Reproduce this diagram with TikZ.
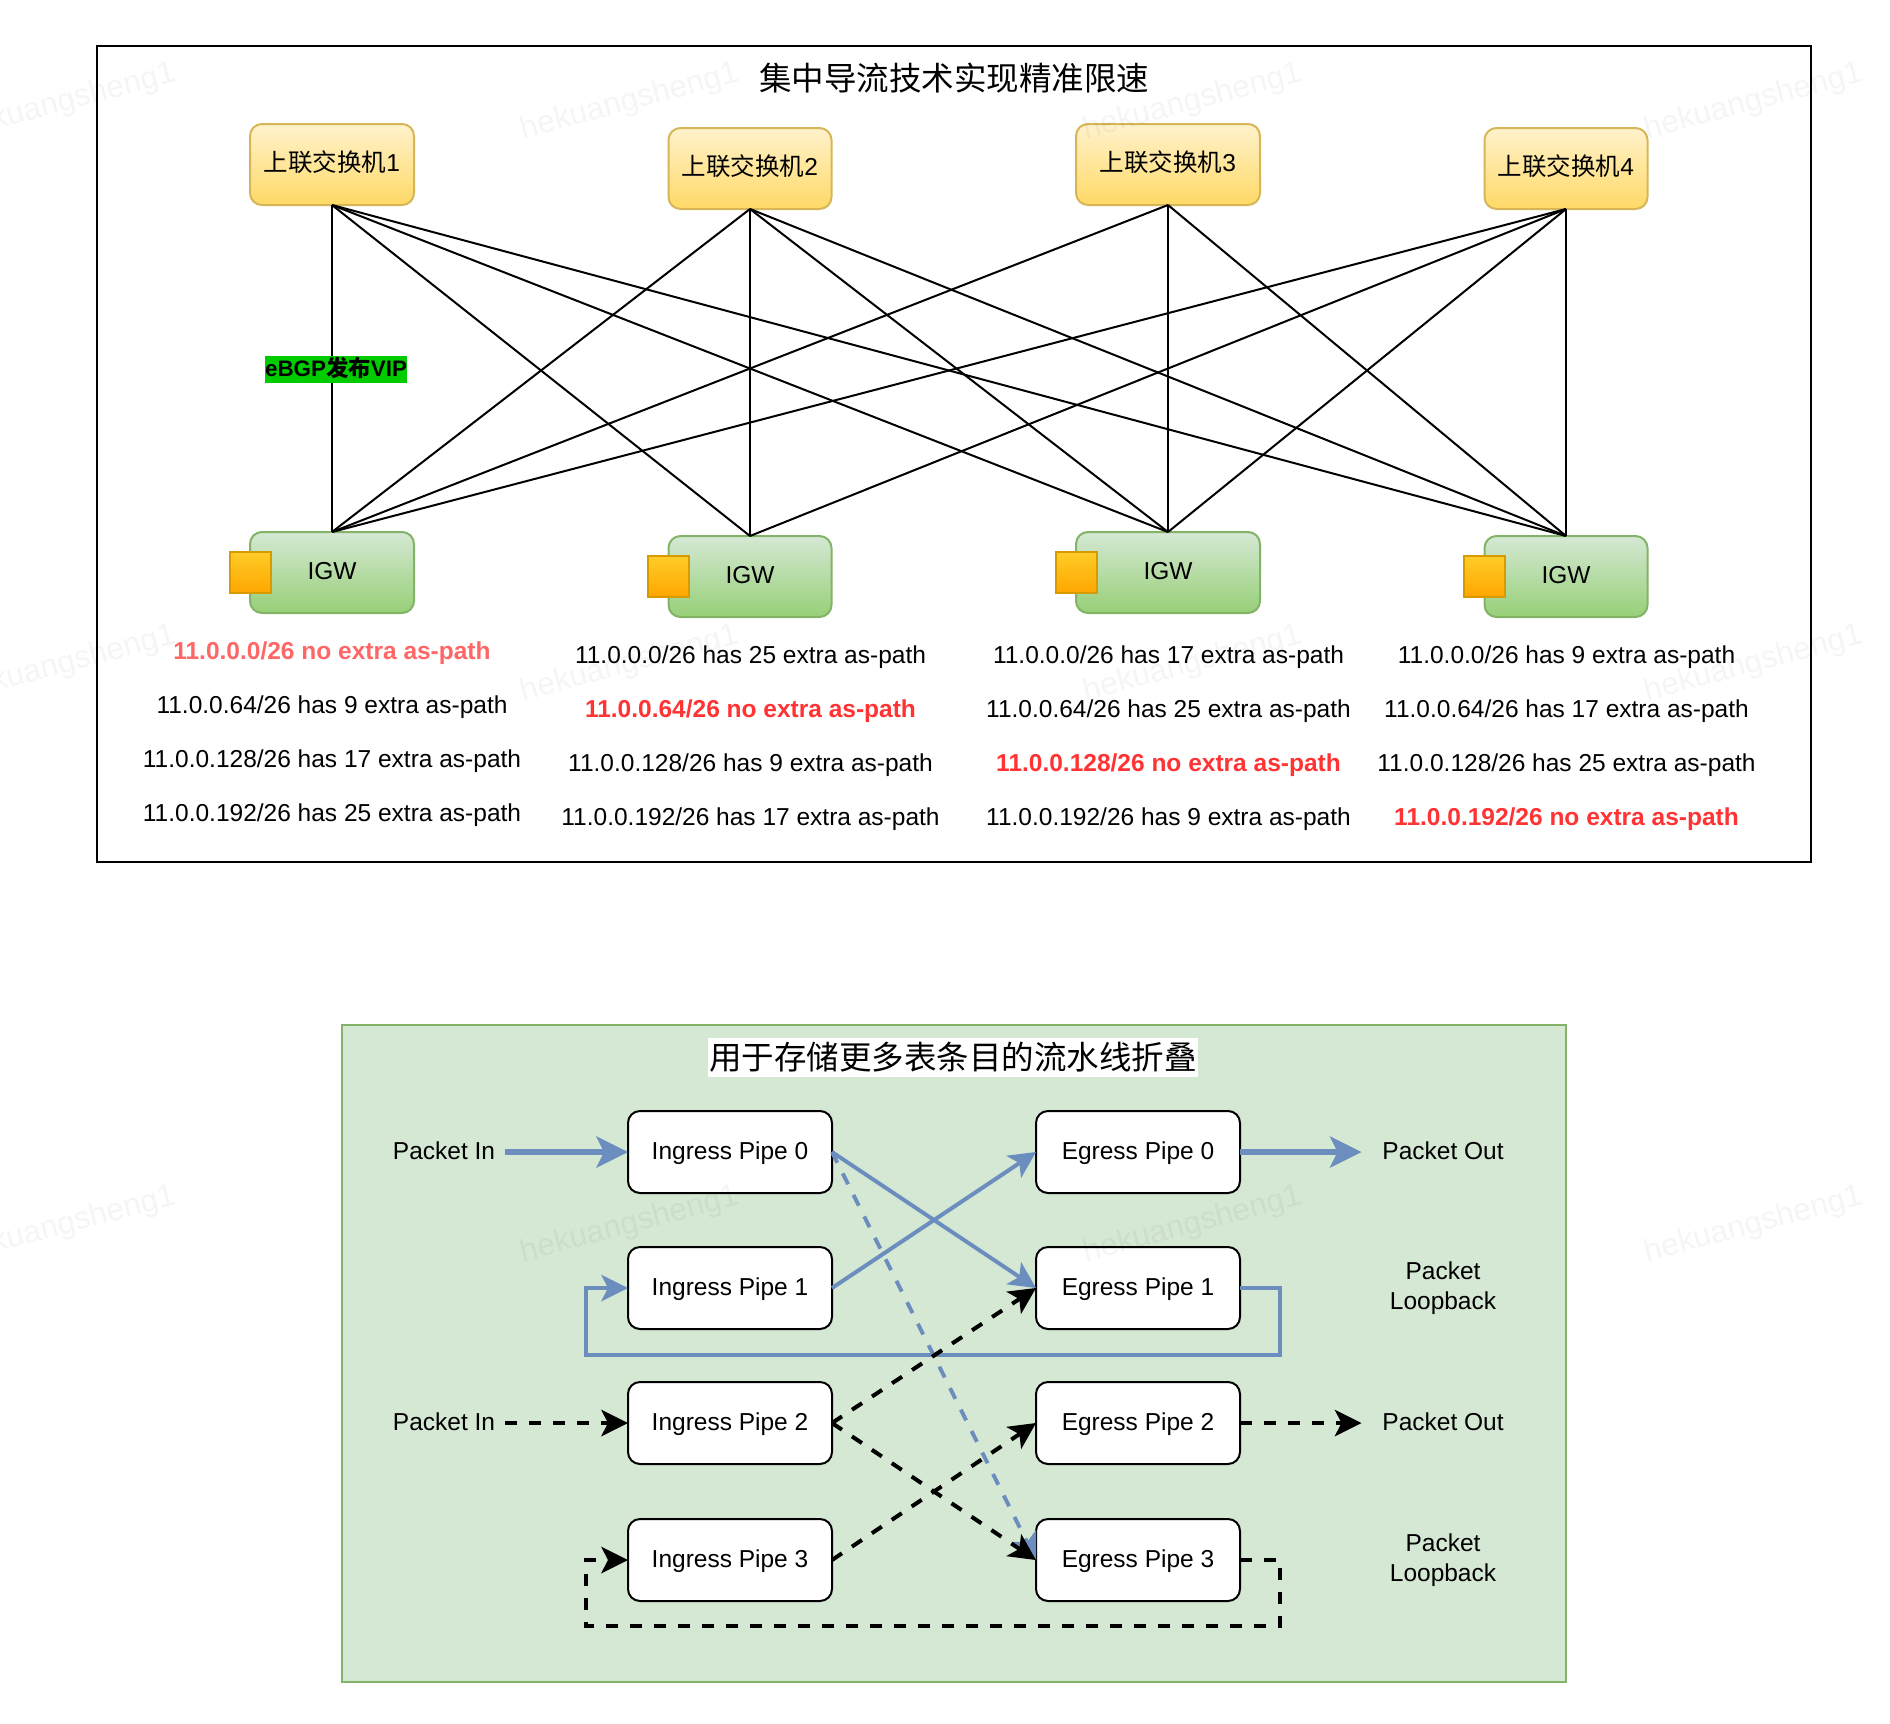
\documentclass[tikz,border=0pt]{standalone}
\usepackage{fontspec}
\setmainfont{Liberation Sans}
\newfontfamily\cjk{Noto Sans CJK SC}
\usetikzlibrary{arrows.meta,shapes.misc}
\definecolor{swtop}{HTML}{FFF2CC}\definecolor{swbot}{HTML}{FFD966}\definecolor{swline}{HTML}{D6B656}
\definecolor{gwtop}{HTML}{D5E8D4}\definecolor{gwbot}{HTML}{97D077}\definecolor{gwline}{HTML}{82B366}
\definecolor{sqtop}{HTML}{FFCD28}\definecolor{sqbot}{HTML}{FFA500}\definecolor{sqline}{HTML}{D79B00}
\definecolor{bluel}{HTML}{6C8EBF}\definecolor{redA}{HTML}{FF6666}\definecolor{redB}{HTML}{FF3333}
\definecolor{ebgp}{HTML}{00CC00}
\tikzset{
  every node/.style={inner sep=0pt,outer sep=0pt,font=\fontsize{24.5}{30}\selectfont,text height=19.5pt,text depth=5pt},
  swbox/.style={draw=swline,line width=2pt,rounded corners=12pt,top color=swtop,bottom color=swbot,minimum height=81pt},
  gwbox/.style={draw=gwline,line width=2pt,rounded corners=12pt,top color=gwtop,bottom color=gwbot,minimum height=81pt},
  sqbox/.style={draw=sqline,line width=2pt,top color=sqtop,bottom color=sqbot,minimum width=41pt,minimum height=41pt},
  pipebox/.style={draw=black,line width=2pt,fill=white,rounded corners=12pt,minimum width=204pt,minimum height=82pt},
  info/.style={},
  infoA/.style={font=\fontsize{24.5}{30}\selectfont\bfseries,text=redA},
  infoB/.style={font=\fontsize{24.5}{30}\selectfont\bfseries,text=redB},
  plabel/.style={minimum width=122pt},
  olabel/.style={minimum width=163pt},
  looplabel/.style={align=center,text height=,text depth=},
  link/.style={line width=2pt,black},
  fat/.style={line width=6pt,bluel,-{Stealth[length=32pt,width=32pt,inset=8pt,line width=0pt]}},
  thin/.style={line width=4pt,bluel,-{Stealth[length=27pt,width=27pt,inset=7pt,line width=0pt]}},
  dashline/.style={line width=4pt,black,dash pattern=on 12pt off 12pt,-{Stealth[length=27pt,width=27pt,inset=7pt,line width=0pt]}},
  thindash/.style={line width=4pt,bluel,dash pattern=on 12pt off 12pt,-{Stealth[length=27pt,width=27pt,inset=7pt,line width=0pt]}},
  wmark/.style={font=\fontsize{31.5}{36}\selectfont,text=black,opacity=0.04,rotate=15}
}
\begin{document}
\begin{tikzpicture}[x=1pt,y=-1pt]
\useasboundingbox (0,0) rectangle (1890,1724);
\fill[white] (0,0) rectangle (1890,1724);

% upper frame
\node[draw=black,line width=2pt,minimum width=1714pt,minimum height=816pt] (frameA) at (954,454) {};
\node[font=\fontsize{32.5}{38}\selectfont\cjk,text height=30pt,text depth=6pt] (titleA) at (954,78) {集中导流技术实现精准限速};

% switches and gateways
\node[swbox,minimum width=164pt] (sw1) at (332,164.5) {\cjk 上联交换机\rmfamily 1};
\node[swbox,minimum width=163pt] (sw2) at (750,168.5) {\cjk 上联交换机\rmfamily 2};
\node[swbox,minimum width=184pt] (sw3) at (1168,164.5) {\cjk 上联交换机\rmfamily 3};
\node[swbox,minimum width=163pt] (sw4) at (1566,168.5) {\cjk 上联交换机\rmfamily 4};
\node[gwbox,minimum width=164pt] (gw1) at (332,572.5) {IGW};
\node[gwbox,minimum width=163pt] (gw2) at (750,576.5) {IGW};
\node[gwbox,minimum width=184pt] (gw3) at (1168,572.5) {IGW};
\node[gwbox,minimum width=163pt] (gw4) at (1566,576.5) {IGW};
\node[sqbox] (sq1) at (250.5,572.5) {};
\node[sqbox] (sq2) at (668.5,576.5) {};
\node[sqbox] (sq3) at (1076.5,572.5) {};
\node[sqbox] (sq4) at (1484.5,576.5) {};

\foreach \a/\b in {1/1,1/2,1/3,1/4,2/1,2/2,2/3,2/4,3/1,3/3,3/4,4/1,4/2,4/3,4/4}{\draw[link] (sw\a.south) -- (gw\b.north);}

\node[fill=ebgp,font=\fontsize{22.4}{26}\selectfont\bfseries,minimum width=142pt,text height=20pt,text depth=7pt] (lbl) at (336,369.5) {eBGP\cjk\bfseries 发布\rmfamily\bfseries VIP};

% address lists
\node[infoA] (t11) at (332,652) {11.0.0.0/26 no extra as-path};
\node[info] (t12) at (332,706) {11.0.0.64/26 has 9 extra as-path};
\node[info] (t13) at (332,760) {11.0.0.128/26 has 17 extra as-path};
\node[info] (t14) at (332,814) {11.0.0.192/26 has 25 extra as-path};
\node[info] (t21) at (750.5,656) {11.0.0.0/26 has 25 extra as-path};
\node[infoB] (t22) at (750.5,710) {11.0.0.64/26 no extra as-path};
\node[info] (t23) at (750.5,764) {11.0.0.128/26 has 9 extra as-path};
\node[info] (t24) at (750.5,818) {11.0.0.192/26 has 17 extra as-path};
\node[info] (t31) at (1168.5,656) {11.0.0.0/26 has 17 extra as-path};
\node[info] (t32) at (1168.5,710) {11.0.0.64/26 has 25 extra as-path};
\node[infoB] (t33) at (1168.5,764) {11.0.0.128/26 no extra as-path};
\node[info] (t34) at (1168.5,818) {11.0.0.192/26 has 9 extra as-path};
\node[info] (t41) at (1566.5,656) {11.0.0.0/26 has 9 extra as-path};
\node[info] (t42) at (1566.5,710) {11.0.0.64/26 has 17 extra as-path};
\node[info] (t43) at (1566.5,764) {11.0.0.128/26 has 25 extra as-path};
\node[infoB] (t44) at (1566.5,818) {11.0.0.192/26 no extra as-path};

% lower frame
\node[draw=gwline,fill=gwtop,line width=2.5pt,minimum width=1224pt,minimum height=657pt] (frameB) at (954,1353.5) {};
\node[fill=white,font=\fontsize{32.5}{38}\selectfont\cjk,minimum width=490pt,text height=31.4pt,text depth=7.6pt] (titleB) at (953,1057.5) {用于存储更多表条目的流水线折叠};

\node[pipebox] (in0) at (730,1152) {Ingress Pipe 0};
\node[pipebox] (in1) at (730,1288) {Ingress Pipe 1};
\node[pipebox] (in2) at (730,1423) {Ingress Pipe 2};
\node[pipebox] (in3) at (730,1560) {Ingress Pipe 3};
\node[pipebox] (eg0) at (1138,1152) {Egress Pipe 0};
\node[pipebox] (eg1) at (1138,1288) {Egress Pipe 1};
\node[pipebox] (eg2) at (1138,1423) {Egress Pipe 2};
\node[pipebox] (eg3) at (1138,1560) {Egress Pipe 3};

\node[plabel] (pin0) at (444,1152) {Packet In};
\node[plabel] (pin2) at (444,1423) {Packet In};
\node[olabel] (pout0) at (1443,1152) {Packet Out};
\node[olabel] (pout2) at (1443,1423) {Packet Out};
\node[looplabel] (loop1) at (1443,1288.5) {Packet\\Loopback};
\node[looplabel] (loop3) at (1443,1560.5) {Packet\\Loopback};

\coordinate (c1a) at (1280,1288);\coordinate (c1b) at (1280,1355);\coordinate (c1c) at (586,1355);\coordinate (c1d) at (586,1288);
\coordinate (c3a) at (1280,1560);\coordinate (c3b) at (1280,1626);\coordinate (c3c) at (586,1626);\coordinate (c3d) at (586,1560);

\draw[fat] (pin0.east) -- (in0.west);
\draw[fat] (eg0.east) -- (pout0.west);
\draw[thin] (eg1.east) -- (c1a) -- (c1b) -- (c1c) -- (c1d) -- (in1.west);
\draw[thin] (in0.east) -- (eg1.west);
\draw[thin] (in1.east) -- (eg0.west);
\draw[thindash] (in0.east) -- (eg3.west);
\draw[dashline] (pin2.east) -- (in2.west);
\draw[dashline] (eg2.east) -- (pout2.west);
\draw[dashline] (in2.east) -- (eg1.west);
\draw[dashline] (in2.east) -- (eg3.west);
\draw[dashline] (in3.east) -- (eg2.west);
\draw[dashline] (eg3.east) -- (c3a) -- (c3b) -- (c3c) -- (c3d) -- (in3.west);

% watermark
\foreach \i/\x in {1/67,2/630,3/1193,4/1754}{
  \foreach \j/\y in {1/103,2/665,3/1226}{
    \node[wmark] (wm\i\j) at (\x,\y) {hekuangsheng1};
  }
}
\end{tikzpicture}
\end{document}
